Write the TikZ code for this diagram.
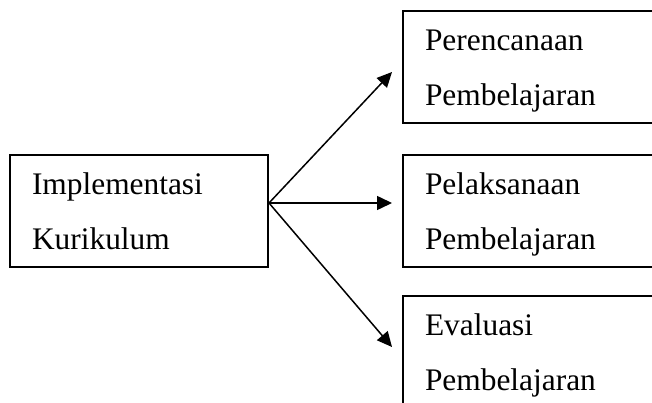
\documentclass[tikz,border=0pt]{standalone}
\usepackage{fontspec}
\setmainfont{Liberation Serif}
\usetikzlibrary{arrows.meta}

\begin{document}
\begin{tikzpicture}[x=1pt,y=-1pt]
	\tikzstyle{box}=[rectangle,draw=black,line width=2pt,minimum width=258pt,minimum height=112pt,inner xsep=22pt,inner ysep=0pt,text width=214pt,align=left,font=\fontsize{31.4}{55}\selectfont,execute at begin node=\strut,execute at end node=\strut]
	\tikzstyle{arr}=[line width=1.5pt,-{Triangle[length=15pt,width=14pt]}]
	\clip (0,0) rectangle (652,403);
	\node[box] (1) at (139,211) {Implementasi\\Kurikulum};
	\node[box] (2) at (532,67) {Perencanaan\\Pembelajaran};
	\node[box] (3) at (532,211) {Pelaksanaan\\Pembelajaran};
	\node[box] (4) at (532,352) {Evaluasi\\Pembelajaran};
	\coordinate (o) at ([yshift=8pt]1.east);
	\draw[arr] (o) -- ([xshift=-10pt,yshift=-5pt]2.west);
	\draw[arr] (o) -- ([xshift=-10pt,yshift=8pt]3.west);
	\draw[arr] (o) -- ([xshift=-10pt,yshift=5pt]4.west);
\end{tikzpicture}
\end{document}
